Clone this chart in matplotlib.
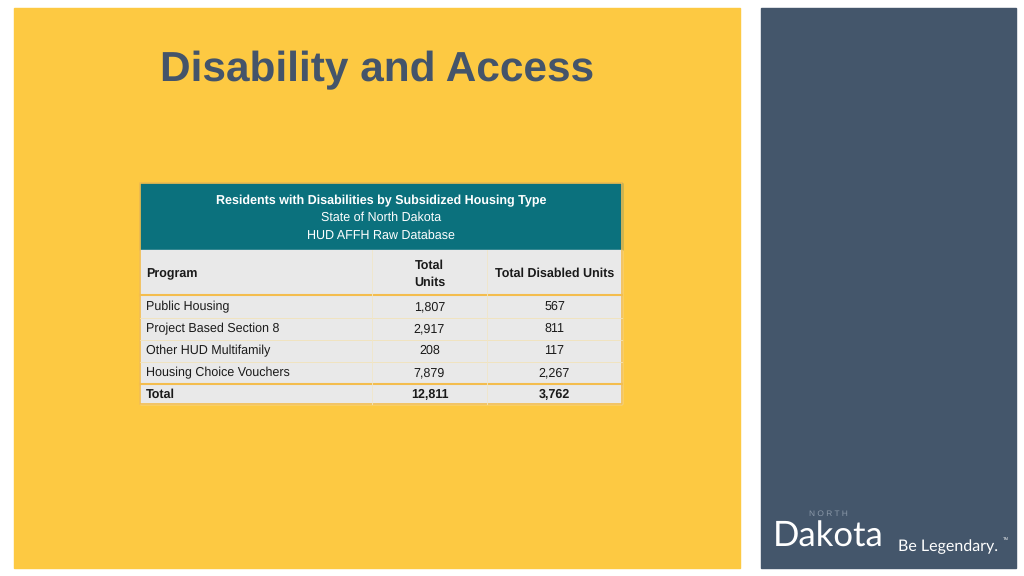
import matplotlib.pyplot as plt
from matplotlib.patches import Rectangle

plt.rcParams['font.family'] = ['Liberation Sans', 'DejaVu Sans']
plt.rcParams['text.hinting'] = 'no_hinting'

# data
title = "Disability and Access"
table_title = ["Residents with Disabilities by Subsidized Housing Type",
               "State of North Dakota",
               "HUD AFFH Raw Database"]
col_headers = ["Program", "Total\nUnits", "Total Disabled Units"]
programs = ["Public Housing", "Project Based Section 8",
            "Other HUD Multifamily", "Housing Choice Vouchers"]
total_units = [1807, 2917, 208, 7879]
disabled_units = [567, 811, 117, 2267]

yellow = "#FDC942"
slate = "#44566B"
teal = "#0B717D"
cell = "#E9E9E9"
line = "#F4BD4E"
txt = "#1A1A1A"
fs = 9

fig = plt.figure(figsize=(10.24, 5.76), dpi=100)
ax = fig.add_axes([0, 0, 1, 1])
ax.set_xlim(0, 1024)
ax.set_ylim(576, 0)
ax.axis("off")

# background panels
ax.add_patch(Rectangle((14, 8), 726, 560, color=yellow))
ax.add_patch(Rectangle((761, 8), 255, 560, color=slate))

ax.text(160, 70, title, fontsize=30.5, fontweight="bold", color="#44546A",
        va="center", ha="left")

# table geometry (pixels)
x0, x1, x2, x3 = 140, 372, 487, 622
ax.add_patch(Rectangle((x0, 183), x3 - x0, 67, color=teal))
ax.text((x0 + x3) / 2, 201, table_title[0], fontsize=fs, fontweight="bold",
        color="white", ha="center", va="center")
ax.text((x0 + x3) / 2, 218, table_title[1], fontsize=fs, color="white",
        ha="center", va="center")
ax.text((x0 + x3) / 2, 236, table_title[2], fontsize=fs, color="white",
        ha="center", va="center")

ax.add_patch(Rectangle((x0, 250), x3 - x0, 154, color=cell))

# column headers
ax.text(x0 + 6, 274, col_headers[0], fontsize=fs, fontweight="bold",
        color=txt, ha="left", va="center")
ax.text((x1 + x2) / 2, 274, col_headers[1], fontsize=fs, fontweight="bold",
        color=txt, ha="center", va="center", linespacing=1.6)
ax.text((x2 + x3) / 2, 274, col_headers[2], fontsize=fs, fontweight="bold",
        color=txt, ha="center", va="center")

# data rows
row_h = 22
y_start = 296
for i, (p, t, d) in enumerate(zip(programs, total_units, disabled_units)):
    yc = y_start + row_h * i + row_h / 2
    ax.text(x0 + 6, yc, p, fontsize=fs, color=txt, ha="left", va="center")
    ax.text((x1 + x2) / 2, yc, f"{t:,}", fontsize=fs, color=txt,
            ha="center", va="center")
    ax.text((x2 + x3) / 2, yc, f"{d:,}", fontsize=fs, color=txt,
            ha="center", va="center")
    if i > 0:
        ax.plot([x0, x3], [y_start + row_h * i] * 2, color="#F2E3B8", lw=0.6)

yt = y_start + row_h * len(programs)
yc = yt + 10.5
ax.text(x0 + 6, yc, "Total", fontsize=fs, fontweight="bold", color=txt,
        ha="left", va="center")
ax.text((x1 + x2) / 2, yc, f"{sum(total_units):,}", fontsize=fs,
        fontweight="bold", color=txt, ha="center", va="center")
ax.text((x2 + x3) / 2, yc, f"{sum(disabled_units):,}", fontsize=fs,
        fontweight="bold", color=txt, ha="center", va="center")

# grid lines
ax.plot([x0, x3], [295, 295], color=line, lw=1.5)
ax.plot([x0, x3], [yt, yt], color=line, lw=1.5)
for xv in (x1, x2):
    ax.plot([xv, xv], [250, 404], color="#F1E6C8", lw=0.6)
ax.add_patch(Rectangle((x0, 183), x3 - x0, 221, fill=False,
                       edgecolor=line, lw=1.2))

# logo
ax.text(828, 514, "N O R T H", fontsize=6, color="#8A98A8", ha="center",
        va="center")
ax.text(773, 537, "Dakota", fontsize=25, color="white", ha="left",
        va="center", family=["Lato", "DejaVu Sans"])
ax.text(898, 547, "Be Legendary.", fontsize=11.5, color="white",
        ha="left", va="center", family=["Lato", "DejaVu Sans"])
ax.text(1003, 539, "TM", fontsize=3, color="white", ha="left",
        va="center")

fig.savefig("out.png", dpi=100, facecolor="white")
